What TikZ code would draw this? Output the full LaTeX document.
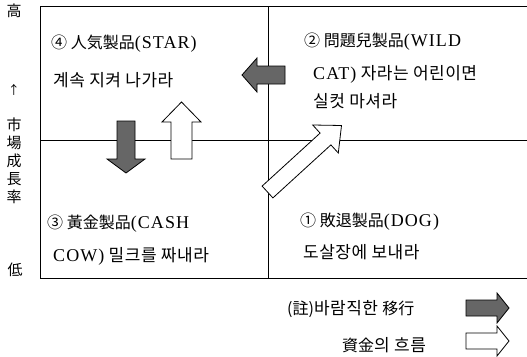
\documentclass[tikz,border=0pt]{standalone}
\usepackage{fontspec}
\setmainfont{Liberation Serif}
\newfontfamily\krhj{Noto Sans CJK KR}
\newfontfamily\krhg[LetterSpace=3]{Noto Sans CJK KR}
\newfontfamily\latw[LetterSpace=6]{Liberation Serif}
\newcommand\HJ[1]{{\krhj #1}}
\newcommand\HG[1]{{\krhg\fontsize{17}{19}\selectfont #1}}
\newcommand\LT[1]{{\latw\fontsize{18}{20}\selectfont #1}}
\tikzset{
  frame/.style={line width=0.9pt, black},
  qtext/.style={anchor=base west, inner sep=0pt, font=\fontsize{16}{18}\selectfont},
  axistext/.style={inner sep=0pt, font=\krhj\fontsize{15}{18}\selectfont, align=center},
  darkarrow/.style={draw=black, line width=0.8pt, fill=black!60, line join=miter},
  whitearrow/.style={draw=black, line width=0.8pt, fill=white, line join=miter},
}
\begin{document}
\begin{tikzpicture}[x=1pt,y=-1pt]
\useasboundingbox (0,0) rectangle (527,356);
% frame and dividers
\coordinate (tl) at (40,6);
\coordinate (tr) at (527,6);
\coordinate (bl) at (40,278);
\coordinate (br) at (527,278);
\coordinate (vt) at (268,6);
\coordinate (vb) at (268,278);
\coordinate (hl) at (40,140);
\coordinate (hr) at (527,140);
\draw[frame] (tr) -- (tl) -- (bl) -- (br);
\draw[frame] (vt) -- (vb);
\draw[frame] (hl) -- (hr);
% axis labels
\node[axistext] (high) at (14,11) {高};
\node[axistext, font=\krhj\fontsize{12}{14}\selectfont] (up) at (14,90) {↑};
\node[axistext] (mgr) at (14,161) {市\\場\\成\\長\\率};
\node[axistext] (low) at (15,270) {低};
% quadrant texts
\node[qtext] (q4a) at (51,48) {\HJ{④ 人気製品}\LT{(STAR)}};
\node[qtext] (q4b) at (53,86) {\HG{계속 지켜 나가라}};
\node[qtext] (q2a) at (304,46) {\HJ{② 問題兒製品}\LT{(WILD}};
\node[qtext] (q2b) at (313,79) {\LT{CAT)}\HG{ 자라는 어린이면}};
\node[qtext] (q2c) at (313,107) {\HG{실컷 마셔라}};
\node[qtext] (q3a) at (47,228) {\HJ{③ 黃金製品}\LT{(CASH}};
\node[qtext] (q3b) at (53,261) {\LT{COW)}\HG{ 밀크를 짜내라}};
\node[qtext] (q1a) at (300,226) {\HJ{① 敗退製品}\LT{(DOG)}};
\node[qtext] (q1b) at (303,258) {\HG{도살장에 보내라}};
% legend
\node[qtext] (leg1) at (287,314) {\HJ{(註)}\HG{바람직한 }\HJ{移行}};
\node[qtext] (leg2) at (342,351) {\HJ{資金}\HG{의 흐름}};
% arrows in the matrix
\draw[darkarrow] (242,75) -- (257,58) -- (257,66) -- (285,66) -- (285,84) -- (257,84) -- (257,92) -- cycle;
\draw[darkarrow] (117,121) -- (135,121) -- (135,159) -- (145,159) -- (126,173) -- (107,159) -- (117,159) -- cycle;
\draw[whitearrow] (171,159) -- (171,122) -- (162,122) -- (181.5,102) -- (201,122) -- (192,122) -- (192,159) -- cycle;
\draw[whitearrow] (262.1,186.1) -- (320.1,133.1) -- (312.7,125) -- (341.5,125.5) -- (338.3,153) -- (330.9,144.9) -- (272.9,197.9) -- cycle;
% legend arrows
\draw[darkarrow] (466,300) -- (497,300) -- (497,293) -- (509,308) -- (497,323) -- (497,316) -- (466,316) -- cycle;
\draw[whitearrow] (466,333) -- (497,333) -- (497,326) -- (509,341) -- (497,356) -- (497,349) -- (466,349) -- cycle;
\end{tikzpicture}
\end{document}
